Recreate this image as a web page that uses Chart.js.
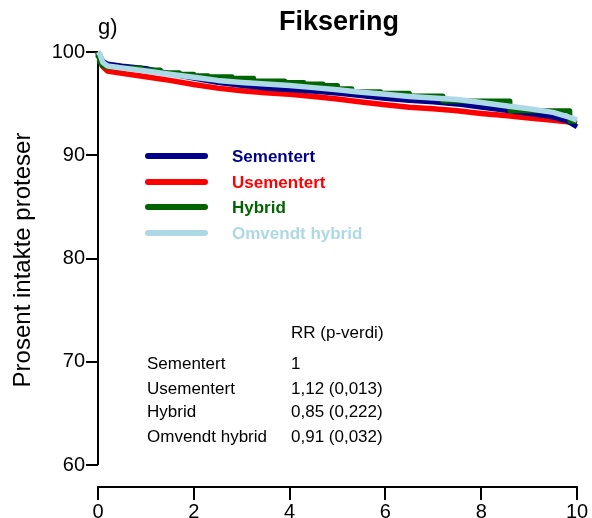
<!DOCTYPE html>
<html>
<head>
<meta charset="utf-8">
<script src="https://cdn.jsdelivr.net/npm/chart.js@4"></script>
<style>
  body { margin: 0; background: #fff; }
  #wrap { width: 592px; height: 518px; }
</style>
</head>
<body>
<div id="wrap"><canvas id="fiksering" width="592" height="518"></canvas></div>
<script>
const years = [0, 0.04, 0.1, 0.2, 0.5, 1, 1.5, 2, 2.5, 3, 3.5, 4, 4.5, 5, 5.5, 6, 6.5, 7, 7.5, 8, 8.5, 9, 9.5, 9.8, 10];
const sementert = [100, 99.7, 99.1, 98.85, 98.65, 98.4, 97.9, 97.45, 97.05, 96.75, 96.5, 96.35, 96.2, 96.0, 95.75, 95.5, 95.3, 95.15, 94.95, 94.65, 94.35, 94.05, 93.7, 93.3, 92.75];
const usementert = [100, 99.5, 98.6, 98.15, 97.95, 97.6, 97.25, 96.85, 96.5, 96.25, 96.05, 95.9, 95.7, 95.45, 95.15, 94.9, 94.65, 94.5, 94.3, 94.05, 93.85, 93.6, 93.4, 93.25, 93.1];
const omvendtHybrid = [100, 99.8, 99.0, 98.65, 98.45, 98.15, 97.85, 97.55, 97.25, 97.05, 96.9, 96.75, 96.55, 96.35, 96.1, 95.9, 95.7, 95.55, 95.4, 95.1, 94.8, 94.5, 94.15, 93.75, 93.4];

const hybridYears = [0, 0.03, 0.08, 0.15, 0.4, 0.9, 1.3, 1.7, 2.0, 2.3, 2.8, 3.25, 3.9, 4.3, 4.7, 5.0, 5.3, 5.9, 6.5, 7.2, 8.6, 9.85, 9.97, 10];
const hybrid = [100, 99.6, 99.0, 98.7, 98.55, 98.45, 98.25, 98.0, 97.85, 97.7, 97.6, 97.45, 97.2, 97.05, 96.9, 96.75, 96.45, 96.15, 96.0, 95.75, 95.25, 94.3, 93.3, 93.3];

const yTicks = [60, 70, 80, 90, 100];
const tableHeader = 'RR (p-verdi)';
const tableNames = ['Sementert', 'Usementert', 'Hybrid', 'Omvendt hybrid'];
const tableValues = ['1', '1,12 (0,013)', '0,85 (0,222)', '0,91 (0,032)'];

const FONT = '"Liberation Sans", Arial, sans-serif';

const toPoints = (xs, ys) => xs.map((x, i) => ({ x: x, y: ys[i] }));

const extras = {
  id: 'extras',
  beforeDatasetsDraw(chart) {
    const ctx = chart.ctx;
    const y = chart.scales.y;
    const left = chart.chartArea.left;
    ctx.save();
    ctx.strokeStyle = '#000';
    ctx.lineWidth = 2;
    ctx.beginPath();
    ctx.moveTo(left, y.getPixelForValue(60));
    ctx.lineTo(left, y.getPixelForValue(100));
    ctx.stroke();
    ctx.restore();
  },
  afterDraw(chart) {
    const ctx = chart.ctx;
    ctx.save();
    ctx.fillStyle = '#000';
    ctx.textBaseline = 'alphabetic';
    ctx.font = 'bold 27px ' + FONT;
    ctx.textAlign = 'center';
    ctx.fillText('Fiksering', 339, 30);
    ctx.font = '22px ' + FONT;
    ctx.textAlign = 'left';
    ctx.fillText('g)', 98, 34);

    // y axis title
    ctx.save();
    ctx.translate(30, 260);
    ctx.rotate(-Math.PI / 2);
    ctx.textAlign = 'center';
    ctx.font = '24px ' + FONT;
    ctx.fillText('Prosent intakte proteser', 0, 0);
    ctx.restore();

    // legend
    ctx.textBaseline = 'middle';
    ctx.textAlign = 'left';
    const rows = [156, 182, 207, 233];
    [0, 1, 2, 3].forEach(i => {
      const ds = chart.data.datasets[i];
      ctx.strokeStyle = ds.borderColor;
      ctx.lineWidth = 6;
      ctx.lineCap = 'round';
      ctx.beginPath();
      ctx.moveTo(148, rows[i]);
      ctx.lineTo(205, rows[i]);
      ctx.stroke();
      ctx.fillStyle = ds.borderColor;
      ctx.font = 'bold 17px ' + FONT;
      ctx.fillText(ds.label, 232, rows[i] + 1);
    });

    // RR table
    ctx.fillStyle = '#000';
    ctx.font = '17px ' + FONT;
    ctx.fillText(tableHeader, 291, 333);
    const tRows = [364, 389, 412, 437];
    tableNames.forEach((name, i) => {
      ctx.fillText(name, 147, tRows[i]);
      ctx.fillText(tableValues[i], 291, tRows[i]);
    });
    ctx.restore();
  }
};

const ctx = document.getElementById('fiksering').getContext('2d');
const chart = new Chart(ctx, {
  type: 'line',
  data: {
    datasets: [
      {
        label: 'Sementert',
        data: toPoints(years, sementert),
        borderColor: '#00008b',
        borderWidth: 5,
        order: 3
      },
      {
        label: 'Usementert',
        data: toPoints(years, usementert),
        borderColor: '#ff0000',
        borderWidth: 5.5,
        order: 4
      },
      {
        label: 'Hybrid',
        data: toPoints(hybridYears, hybrid),
        borderColor: '#006400',
        borderWidth: 5,
        stepped: 'after',
        order: 2
      },
      {
        label: 'Omvendt hybrid',
        data: toPoints(years, omvendtHybrid),
        borderColor: '#add8e6',
        borderWidth: 5.5,
        order: 1
      }
    ]
  },
  options: {
    responsive: false,
    animation: false,
    events: [],
    layout: { padding: { top: 52, right: 15, left: 0, bottom: 0 } },
    elements: { point: { radius: 0 }, line: { tension: 0, borderJoinStyle: 'round' } },
    datasets: { line: { clip: false } },
    plugins: { legend: { display: false }, tooltip: { enabled: false } },
    scales: {
      x: {
        type: 'linear',
        min: 0,
        max: 10,
        afterFit: scale => { scale.height = 31; },
        border: { display: true, color: '#000', width: 2 },
        grid: { drawOnChartArea: false, drawTicks: true, tickLength: 13, color: '#000', lineWidth: 2 },
        ticks: { stepSize: 2, color: '#000', padding: 0, font: { size: 20, family: FONT } }
      },
      y: {
        min: 57.87,
        max: 100,
        afterFit: scale => { scale.width = 98; },
        afterBuildTicks: axis => { axis.ticks = yTicks.map(v => ({ value: v })); },
        border: { display: false },
        grid: { drawOnChartArea: false, drawTicks: true, tickLength: 12, color: '#000', lineWidth: 2 },
        ticks: { color: '#000', padding: 1, font: { size: 20, family: FONT } }
      }
    }
  },
  plugins: [extras]
});
</script>
</body>
</html>
